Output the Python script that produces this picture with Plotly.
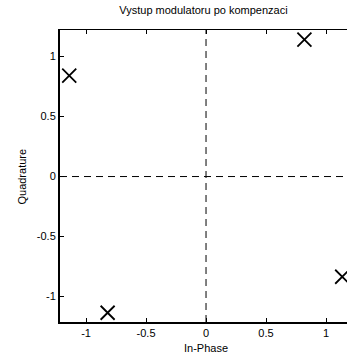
import plotly.graph_objects as go

in_phase = [-1.14, 0.82, -0.82, 1.135]
quadrature = [0.84, 1.14, -1.135, -0.835]
xticks = [-1, -0.5, 0, 0.5, 1]
yticks = [-1, -0.5, 0, 0.5, 1]
title = "Vystup modulatoru po kompenzaci"
xlabel = "In-Phase"
ylabel = "Quadrature"

FONT = "Liberation Sans, Arial, sans-serif"

fig = go.Figure()
fig.add_trace(go.Scatter(
    x=in_phase, y=quadrature, mode="markers",
    marker=dict(symbol="x-thin", size=14, color="black",
                line=dict(color="black", width=1.8)),
    cliponaxis=False, showlegend=False, hoverinfo="skip"))

fig.add_shape(type="line", xref="x", yref="paper", x0=0, x1=0, y0=0, y1=1,
              line=dict(color="black", width=1, dash="7px,5px"), layer="below")
fig.add_shape(type="line", xref="paper", yref="y", x0=0, x1=1, y0=0, y1=0,
              line=dict(color="black", width=1, dash="7px,5px"), layer="below")

axis_common = dict(showgrid=False, zeroline=False, ticks="inside", ticklen=4,
                   tickcolor="black", tickfont=dict(family=FONT, size=11, color="black"))

fig.update_layout(
    width=347, height=353,
    margin=dict(l=60, r=0, t=30, b=31),
    paper_bgcolor="white", plot_bgcolor="white",
    font=dict(family=FONT, size=11, color="black"),
    title=dict(text=title, x=0.5, xref="paper", y=1, yref="container",
               yanchor="top", pad=dict(t=6), font=dict(family=FONT, size=11, color="black")),
    xaxis=dict(range=[-1.217, 1.175], tickvals=xticks, ticktext=[str(v) for v in xticks],
               showline=True, linecolor="black", linewidth=2, **axis_common),
    yaxis=dict(range=[-1.212, 1.221], tickvals=yticks, ticktext=[str(v) for v in yticks],
               showline=True, linecolor="black", linewidth=2, **axis_common),
    xaxis2=dict(overlaying="x", matches="x", side="top", range=[-1.217, 1.175],
                tickvals=xticks, showticklabels=False, showline=True, linecolor="black",
                linewidth=1, showgrid=False, zeroline=False, ticks="inside", ticklen=4,
                tickcolor="black"),
)
fig.add_trace(go.Scatter(x=[None], y=[None], xaxis="x2", yaxis="y", showlegend=False))

fig.add_annotation(text=xlabel, x=0, xref="x", y=0, yref="paper", yshift=-18, yanchor="top",
                   showarrow=False, font=dict(family=FONT, size=11, color="black"))
fig.add_annotation(text=ylabel, x=0, xref="paper", xshift=-38, xanchor="center",
                   y=0, yref="y", textangle=-90, showarrow=False,
                   font=dict(family=FONT, size=11, color="black"))

fig.write_html("out.html")
